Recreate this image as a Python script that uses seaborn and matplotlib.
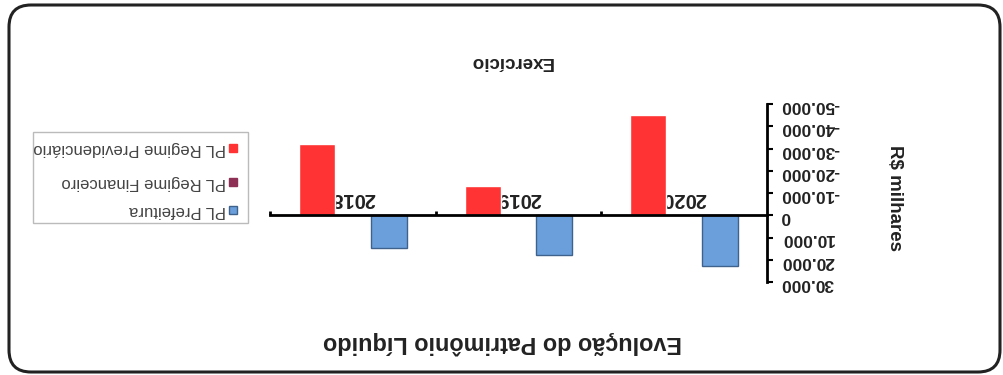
import numpy as np
import pandas as pd
import seaborn as sns
import matplotlib.pyplot as plt
import matplotlib.transforms as mtransforms
from matplotlib.patches import FancyBboxPatch, Rectangle
from matplotlib.ticker import MultipleLocator, FuncFormatter, FixedLocator

# the reference picture is upside down, so the whole chart is drawn rotated by 180 degrees
anos = ['2020', '2019', '2018']
series = ['PL Prefeitura', 'PL Regime Financeiro', 'PL Regime Previdenciário']
pl_prefeitura = [22900, 17700, 14600]
pl_financeiro = [0, 0, 0]
pl_previdenciario = [-45000, -13000, -32000]
cores = ['#6A9FDC', '#8E2F55', '#FF3333']

df = pd.DataFrame({
    'ano': anos * 3,
    'serie': [s for s in series for _ in anos],
    'valor': pl_prefeitura + pl_financeiro + pl_previdenciario,
})

sns.set_theme(style='white')
plt.rcParams['font.family'] = ['Liberation Sans', 'DejaVu Sans']

fig = plt.figure(figsize=(10.04, 3.75), dpi=100)
W, H = 1004, 375
ax = fig.add_axes([270 / W, 1 - 282 / H, (767 - 270) / W, (282 - 104) / H])
ax.set_facecolor('none')

sns.barplot(data=df, x='ano', y='valor', hue='serie', order=anos, hue_order=series,
            palette=cores, width=0.65, saturation=1, legend=False, ax=ax)
for bar in ax.containers[0]:
    bar.set_edgecolor('#3F628C')
    bar.set_linewidth(1)

ax.set_xlim(2.5, -0.5)
ax.set_ylim(30000, -50000)

# axes: y on the right, x line through zero with labels above it
for s in ['left', 'bottom']:
    ax.spines[s].set_visible(False)
ax.spines['right'].set_linewidth(2)
ax.spines['right'].set_color('black')
ax.spines['top'].set_position(('data', 0))
ax.spines['top'].set_linewidth(2)
ax.spines['top'].set_color('black')

ax.yaxis.tick_right()
ax.yaxis.set_major_locator(MultipleLocator(10000))
ax.yaxis.set_major_formatter(FuncFormatter(lambda v, p: f'{int(round(v)):,}'.replace(',', '.')))
ax.tick_params(axis='y', which='major', direction='out', length=4, width=1.5, color='black',
               labelsize=12.5, labelrotation=180, pad=6, labelcolor='#222222')

ax.xaxis.tick_top()
ax.xaxis.set_minor_locator(FixedLocator([0.5, 1.5, 2.5]))
ax.tick_params(axis='x', which='major', length=0, pad=5, labelsize=14.5, labelrotation=180,
               labelcolor='#222222')
ax.tick_params(axis='x', which='minor', top=True, direction='out', length=3, width=2, color='black')
for t in ax.get_xticklabels():
    t.set_fontweight('bold')
for t in ax.get_yticklabels():
    t.set_fontweight('bold')

ax.set_xlabel('Exercício', fontsize=13.5, fontweight='bold', color='#222222')
ax.xaxis.set_label_position('top')
ax.xaxis.label.set(rotation=180, va='center', ha='center')
ax.xaxis.set_label_coords(0.485, 1.236)

ax.set_ylabel('R$ milhares', fontsize=13.5, fontweight='bold', color='#222222')
ax.yaxis.set_label_position('right')
ax.yaxis.label.set(rotation=270, va='center', ha='center')
ax.yaxis.set_label_coords(1.2575, 0.472)

fig.text(503 / W, 1 - 343 / H, 'Evolução do Patrimônio Líquido', rotation=180,
         ha='center', va='center', fontsize=16.8, fontweight='bold', color='#222222')

# legend, built by hand so it can be turned upside down too
fig.add_artist(Rectangle((33 / W, 1 - 223 / H), (248 - 33) / W, (223 - 132) / H,
                         transform=fig.transFigure, facecolor='white',
                         edgecolor='#BBBBBB', linewidth=1))
leg_y = [210, 182, 148]
for serie, cor, yy in zip(series, cores, leg_y):
    ec = '#3F628C' if serie == 'PL Prefeitura' else cor
    fig.add_artist(Rectangle(((233 - 4) / W, 1 - (yy + 4) / H), 8 / W, 8 / H,
                             transform=fig.transFigure, facecolor=cor, edgecolor=ec, linewidth=1))
    fig.text(226 / W, 1 - yy / H, serie, rotation=180, ha='right', va='center',
             fontsize=12, color='#444444')

# rounded frame around the chart
fig.add_artist(FancyBboxPatch((9, 3), 991, 367, boxstyle='round,pad=0,rounding_size=22',
                              transform=mtransforms.IdentityTransform(),
                              facecolor='none', edgecolor='#222222', linewidth=2.2))

plt.savefig('out.png', dpi=100)
